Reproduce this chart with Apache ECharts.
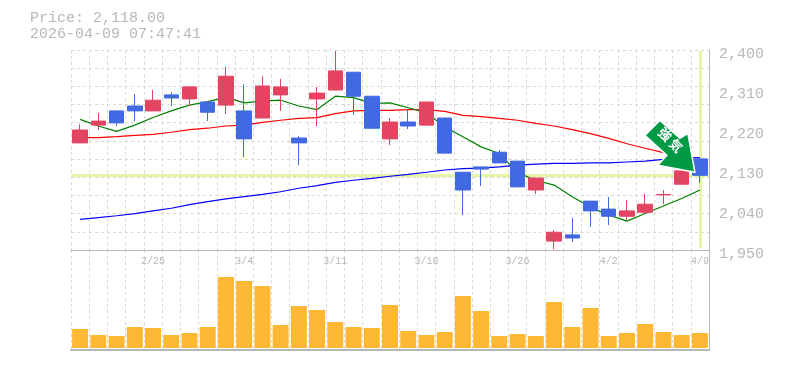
<!DOCTYPE html>
<html lang="ja">
  <head>
    <meta charset="UTF-8" />
    <title>ECharts</title>
    <script src="https://cdn.jsdelivr.net/npm/echarts@6/dist/echarts.min.js"></script>
    <style>
      html, body { margin: 0; padding: 0; background: #fff; }
    </style>
  </head>

  <body>
    <div id="main" style="width: 785px; height: 370px"></div>
    <script type="text/javascript">
      const dates = [
        "2/18", "2/19", "2/20", "2/24", "2/25", "2/26", "2/27", "3/2", "3/3", "3/4",
        "3/5", "3/6", "3/9", "3/10", "3/11", "3/12", "3/13", "3/16", "3/17", "3/18",
        "3/19", "3/23", "3/24", "3/25", "3/26", "3/27", "3/30", "3/31", "4/1", "4/2",
        "4/3", "4/6", "4/7", "4/8", "4/9",
      ];
      const dateLabels = ["2/25", "3/4", "3/11", "3/18", "3/26", "4/2", "4/9"];
      const priceTicks = [1950, 2040, 2130, 2220, 2310, 2400];

      const opens = [2191, 2231, 2263, 2274, 2263, 2299, 2290, 2283, 2276, 2263, 2247, 2299, 2202, 2290, 2310, 2350, 2296, 2200, 2238, 2231, 2247, 2125, 2137, 2170, 2150, 2085, 1970, 1984, 2060, 2042, 2026, 2035, 2074, 2098, 2155];
      const closes = [2220, 2240, 2236, 2263, 2287, 2292, 2317, 2260, 2341, 2200, 2319, 2317, 2191, 2303, 2353, 2296, 2224, 2238, 2229, 2283, 2168, 2085, 2132, 2146, 2092, 2112, 1990, 1977, 2038, 2026, 2038, 2053, 2075, 2128, 2118];
      const lows = [2191, 2220, 2229, 2240, 2263, 2274, 2274, 2240, 2256, 2159, 2247, 2263, 2141, 2229, 2310, 2254, 2224, 2186, 2222, 2231, 2168, 2029, 2094, 2146, 2092, 2076, 1952, 1968, 2002, 2006, 2017, 2031, 2053, 2098, 2101];
      const highs = [2233, 2258, 2263, 2301, 2310, 2305, 2319, 2283, 2362, 2323, 2341, 2335, 2206, 2317, 2398, 2350, 2296, 2247, 2267, 2283, 2247, 2125, 2137, 2175, 2150, 2112, 1995, 2022, 2060, 2069, 2062, 2076, 2085, 2128, 2158];

      const maShort = [2244, 2229, 2217, 2231, 2248, 2263, 2276, 2284, 2294, 2281, 2285, 2287, 2274, 2266, 2296, 2293, 2280, 2281, 2270, 2259, 2227, 2205, 2182, 2167, 2124, 2107, 2096, 2070, 2046, 2029, 2015, 2032, 2049, 2066, 2085];
      const maMiddle = [2203, 2203, 2205, 2208, 2210, 2215, 2221, 2224, 2229, 2231, 2237, 2242, 2246, 2248, 2257, 2263, 2264, 2264, 2266, 2266, 2262, 2253, 2250, 2246, 2242, 2235, 2229, 2221, 2212, 2201, 2189, 2179, 2169, 2160, 2151];
      const maLong = [2019, 2023, 2027, 2032, 2038, 2044, 2052, 2059, 2065, 2070, 2075, 2081, 2089, 2095, 2102, 2107, 2111, 2116, 2120, 2125, 2130, 2133, 2134, 2137, 2141, 2143, 2145, 2145, 2146, 2146, 2148, 2150, 2154, 2157, 2158];

      const volumes = [19000, 13000, 12000, 21000, 20000, 13000, 15000, 21000, 71000, 67000, 62000, 23000, 42000, 38000, 26000, 21000, 20000, 43000, 17000, 13000, 16000, 52000, 37000, 12000, 14000, 12000, 46000, 21000, 40000, 12000, 15000, 24000, 16000, 13000, 15000];

      const lastPrice = 2118;
      const lastDate = "4/9";
      const arrowText = "強\u2009気";

      const GRAY = "#b8b8b8";
      const GRID = "#d9d9d9";
      const MONO = '"Liberation Mono", monospace';
      const ARROW = "path://M660 120L680 138L688 133L695 172L658 165L667 155L645 135Z";

      const chart = echarts.init(document.getElementById("main"));

      function splitX() {
        return {
          show: true,
          interval: 0,
          lineStyle: { color: GRID, type: [3, 3], width: 1 },
        };
      }

      const option = {
        animation: false,
        backgroundColor: "#fff",
        title: {
          text: "Price: 2,118.00\n2026-04-09 07:47:41",
          left: 30,
          top: 10,
          padding: 0,
          textStyle: {
            color: GRAY,
            fontFamily: MONO,
            fontSize: 15,
            fontWeight: "normal",
            lineHeight: 16,
          },
        },
        grid: [
          { left: 71, top: 50, width: 638, height: 200 },
          { left: 71, top: 250, width: 638, height: 100 },
        ],
        xAxis: [
          {
            type: "category",
            gridIndex: 0,
            data: dates,
            axisTick: { show: false },
            axisLine: { lineStyle: { color: GRAY, width: 1 } },
            axisLabel: {
              color: GRAY,
              fontFamily: MONO,
              fontSize: 10,
              margin: 6,
              interval: (i, v) => dateLabels.includes(v),
            },
            splitLine: splitX(),
          },
          {
            type: "category",
            gridIndex: 1,
            data: dates,
            axisTick: { show: false },
            axisLabel: { show: false },
            axisLine: { onZero: false, lineStyle: { color: GRAY, width: 2 } },
            splitLine: splitX(),
          },
        ],
        yAxis: [
          {
            type: "value",
            gridIndex: 0,
            position: "right",
            min: 1950,
            max: 2400,
            axisTick: { show: false },
            axisLine: { show: true, lineStyle: { color: GRAY, width: 1 } },
            splitLine: { show: false },
            axisLabel: {
              customValues: priceTicks,
              color: GRAY,
              fontFamily: MONO,
              fontSize: 15,
              margin: 10,
              verticalAlign: "top",
              lineHeight: 8,
              formatter: (v) => v.toLocaleString("en-US"),
            },
          },
          // the dashed rows are not on the price ticks, 11 even rows
          {
            type: "value",
            gridIndex: 0,
            position: "left",
            min: 0,
            max: 11,
            interval: 1,
            axisTick: { show: false },
            axisLine: { show: false },
            axisLabel: { show: false },
            splitLine: {
              show: true,
              lineStyle: { color: GRID, type: [3, 3], width: 1 },
            },
          },
          {
            type: "value",
            gridIndex: 1,
            position: "right",
            min: -2000,
            max: 98000,
            axisTick: { show: false },
            axisLabel: { show: false },
            axisLine: { show: true, onZero: false, lineStyle: { color: GRAY, width: 1 } },
            splitLine: { show: false },
          },
        ],
        series: [
          {
            name: "last",
            type: "line",
            data: [],
            z: 1,
            markLine: {
              z: 1,
              silent: true,
              symbol: "none",
              animation: false,
              label: { show: false },
              lineStyle: { color: "#e4f5a8", width: 3, type: "solid" },
              data: [
                { yAxis: lastPrice },
                [{ coord: [lastDate, 2398] }, { coord: [lastDate, 1955] }],
              ],
            },
          },
          {
            name: "MA long",
            type: "line",
            data: maLong,
            z: 2,
            showSymbol: false,
            lineStyle: { color: "#0000ff", width: 1.2 },
          },
          {
            name: "MA middle",
            type: "line",
            data: maMiddle,
            z: 2,
            showSymbol: false,
            lineStyle: { color: "#ff0000", width: 1.2 },
          },
          {
            name: "MA short",
            type: "line",
            data: maShort,
            z: 2,
            showSymbol: false,
            lineStyle: { color: "#008000", width: 1.2 },
          },
          {
            name: "candle",
            type: "candlestick",
            z: 3,
            barWidth: 15,
            data: dates.map((d, i) => [opens[i], closes[i], lows[i], highs[i]]),
            itemStyle: {
              color: "#e24462",
              color0: "#4169e1",
              borderColor: "#e24462",
              borderColor0: "#4169e1",
              borderWidth: 1,
            },
            markPoint: {
              z: 6,
              silent: true,
              animation: false,
              symbol: ARROW,
              symbolSize: [50, 52],
              symbolOffset: [-30, -29],
              itemStyle: { color: "#009944", borderColor: "#fff", borderWidth: 1.5 },
              label: {
                show: true,
                position: "inside",
                offset: [-4, -5],
                rotate: -45,
                color: "#fff",
                fontFamily: '"Noto Sans CJK JP"',
                fontSize: 13,
                fontWeight: "bold",
                formatter: arrowText,
              },
              data: [{ coord: [lastDate, lastPrice] }],
            },
          },
          {
            name: "volume",
            type: "bar",
            xAxisIndex: 1,
            yAxisIndex: 2,
            barWidth: 16,
            data: volumes,
            itemStyle: { color: "#ffb833" },
          },
        ],
      };
      chart.setOption(option);
    </script>
  </body>
</html>
